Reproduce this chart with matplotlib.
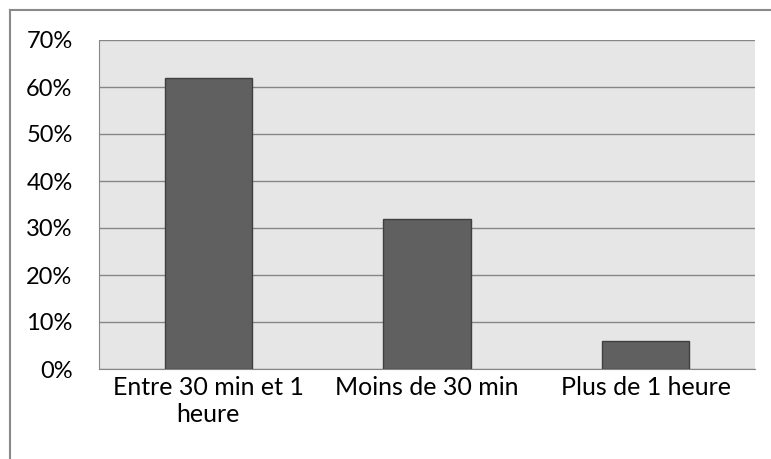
import matplotlib.pyplot as plt
from matplotlib.lines import Line2D
from matplotlib.ticker import FuncFormatter

categories = ['Entre 30 min et 1\nheure', 'Moins de 30 min', 'Plus de 1 heure']
values = [0.62, 0.32, 0.06]
yticks = [0, 0.1, 0.2, 0.3, 0.4, 0.5, 0.6, 0.7]

plt.rcParams['font.family'] = ['Lato', 'DejaVu Sans']

fig = plt.figure(figsize=(7.71, 4.59), dpi=100)
ax = fig.add_axes([99 / 771, 1 - 369 / 459, (755 - 99) / 771, (369 - 40) / 459])

# cadre extérieur (seulement haut et gauche visibles)
fig.add_artist(Line2D([10 / 771, 1], [1 - 10 / 459, 1 - 10 / 459], color='#8a8a8a', lw=1.5))
fig.add_artist(Line2D([10 / 771, 10 / 771], [0, 1 - 10 / 459], color='#8a8a8a', lw=1.5))

ax.set_facecolor('#e6e6e6')
x = range(len(categories))
ax.bar(x, values, width=0.4, color='#606060', edgecolor='#3f3f3f', linewidth=1, zorder=3)

ax.set_xlim(-0.5, len(categories) - 0.5)
ax.set_ylim(0, 0.7)
ax.set_yticks(yticks)
ax.yaxis.set_major_formatter(FuncFormatter(lambda v, p: f'{v * 100:.0f}%'))
ax.grid(axis='y', color='#868686', linewidth=1, zorder=1)
ax.set_axisbelow(True)

ax.set_xticks(list(x))
ax.set_xticklabels(categories, fontsize=18, linespacing=1.2)
ax.tick_params(axis='y', labelsize=17, length=0, pad=19)
ax.tick_params(axis='x', length=0, pad=5)

for s in ['top', 'right']:
    ax.spines[s].set_visible(False)
ax.spines['left'].set_color('#868686')
ax.spines['bottom'].set_color('#868686')

fig.savefig('out.png', dpi=100)
